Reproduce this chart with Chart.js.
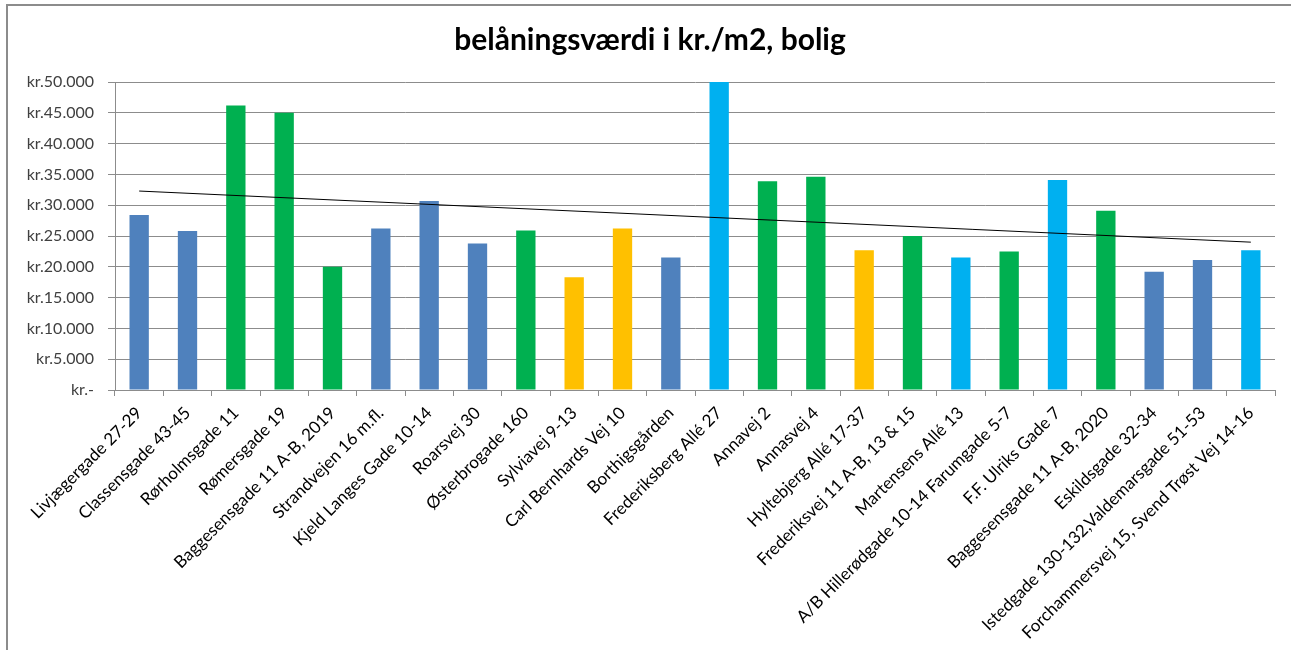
<!DOCTYPE html>
<html>
<head>
<meta charset="utf-8">
<script src="https://cdn.jsdelivr.net/npm/chart.js@4.4.1/dist/chart.umd.min.js"></script>
<style>
  html, body { margin: 0; padding: 0; background: #fff; }
  #wrap { position: relative; width: 1291px; height: 650px; overflow: hidden; }
  #frame { position: absolute; left: 6px; top: 4px; width: 1300px; height: 660px;
           border-top: 2px solid #8c8c8c; border-left: 2px solid #8c8c8c; box-sizing: border-box; }
  canvas { position: absolute; left: 0; top: 0; }
</style>
</head>
<body>
<div id="wrap">
  <div id="frame"></div>
  <canvas id="c" width="1291" height="650"></canvas>
</div>
<script>
const titleText = "belåningsværdi i kr./m2, bolig";

const categories = [
  "Livjægergade 27-29",
  "Classensgade 43-45",
  "Rørholmsgade 11",
  "Rømersgade 19",
  "Baggesensgade 11 A-B, 2019",
  "Strandvejen 16 m.fl.",
  "Kjeld Langes Gade 10-14",
  "Roarsvej 30",
  "Østerbrogade 160",
  "Sylviavej 9-13",
  "Carl Bernhards Vej 10",
  "Borthigsgården",
  "Frederiksberg Allé 27",
  "Annavej 2",
  "Annasvej 4",
  "Hyltebjerg Allé 17-37",
  "Frederiksvej 11 A-B, 13 & 15",
  "Martensens Allé 13",
  "A/B Hillerødgade 10-14 Farumgade 5-7",
  "F.F. Ulriks Gade 7",
  "Baggesensgade 11 A-B, 2020",
  "Eskildsgade 32-34",
  "Istedgade 130-132,Valdemarsgade 51-53",
  "Forchammersvej 15, Svend Trøst Vej 14-16"
];

const values = [
  28400, 25800, 46200, 45000, 20000, 26200, 30700, 23800, 25900, 18300, 26200, 21500,
  50000, 33900, 34600, 22700, 25000, 21500, 22500, 34100, 29100, 19200, 21100, 22700
];

// colour group of each bar
const groups = [
  "blue", "blue", "green", "green", "green", "blue", "blue", "blue", "green", "yellow", "yellow", "blue",
  "cyan", "green", "green", "yellow", "green", "cyan", "green", "cyan", "green", "blue", "blue", "cyan"
];

// linear trendline end values (first and last category)
const trendStart = 32300;
const trendEnd = 24000;

const yTickLabels = ["kr.-", "kr.5.000", "kr.10.000", "kr.15.000", "kr.20.000", "kr.25.000",
                     "kr.30.000", "kr.35.000", "kr.40.000", "kr.45.000", "kr.50.000"];

const palette = { blue: "#4F81BD", green: "#00B050", yellow: "#FFC000", cyan: "#00B0F0" };
const barColors = groups.map(g => palette[g]);
const trendData = categories.map((_, i) => i === 0 ? trendStart : (i === categories.length - 1 ? trendEnd : null));

const FONT = "Lato, 'Open Sans', sans-serif";
const gridColor = "#8c8c8c";

new Chart(document.getElementById("c"), {
  data: {
    labels: categories,
    datasets: [
      {
        type: "line",
        data: trendData,
        borderColor: "#000000",
        borderWidth: 1,
        pointRadius: 0,
        spanGaps: true,
        fill: false,
        order: 0
      },
      {
        type: "bar",
        data: values,
        backgroundColor: barColors,
        borderWidth: 0,
        barPercentage: 0.4,
        categoryPercentage: 1.0,
        order: 1
      }
    ]
  },
  options: {
    responsive: false,
    animation: false,
    layout: { padding: { left: 25, right: 16, top: 0, bottom: 0 } },
    plugins: {
      legend: { display: false },
      tooltip: { enabled: false },
      title: {
        display: true,
        text: titleText,
        color: "#000000",
        font: { family: FONT, size: 30, weight: "bold", lineHeight: 1.2 },
        padding: { top: 22, bottom: 24 }
      }
    },
    scales: {
      x: {
        offset: true,
        grid: { offset: true, drawOnChartArea: false, color: gridColor, tickLength: 6 },
        border: { display: true, color: gridColor, width: 1 },
        ticks: {
          autoSkip: false,
          maxRotation: 45,
          minRotation: 45,
          padding: 7,
          color: "#000000",
          font: { family: FONT, size: 17 }
        },
        afterFit: s => { s.height = 260; }
      },
      y: {
        min: 0,
        max: 50000,
        ticks: {
          stepSize: 5000,
          padding: 14,
          color: "#404040",
          font: { family: FONT, size: 16 },
          callback: (v, i) => yTickLabels[i]
        },
        grid: { color: gridColor, tickLength: 7, lineWidth: 1 },
        border: { display: true, color: gridColor, width: 1 },
        afterFit: s => { s.width = 90; }
      }
    }
  }
});
</script>
</body>
</html>
